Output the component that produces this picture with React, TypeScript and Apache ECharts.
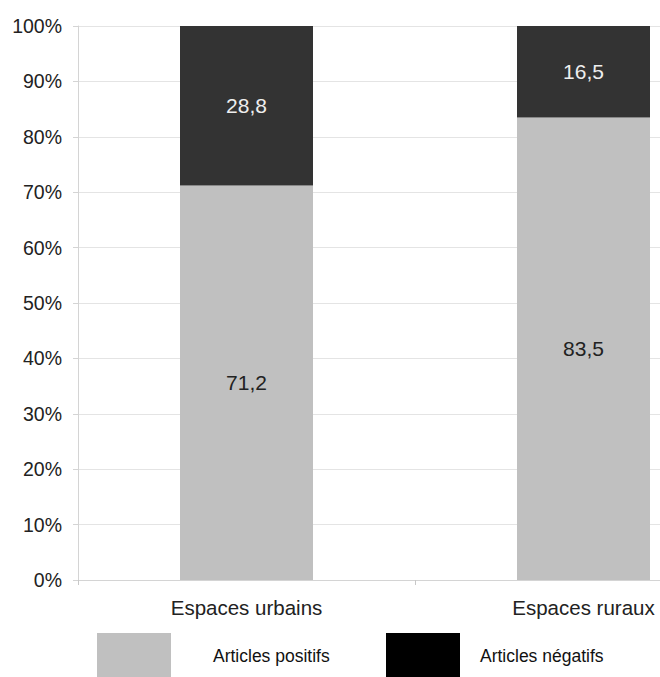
import React, { useEffect, useRef } from "react";
import * as echarts from "echarts";

const categories = ["Espaces urbains", "Espaces ruraux"];
const positifs = [71.2, 83.5];
const negatifs = [28.8, 16.5];
const seriesNames = ["Articles positifs", "Articles négatifs"];

export default function App() {
  const ref = useRef<HTMLDivElement>(null);
  useEffect(() => {
    if (!ref.current) return;
    const chart = echarts.init(ref.current, null, { renderer: "svg" });
    const fmt = (p: any) => String(p.value).replace(".", ",");
    const font = "Liberation Sans, Arial, sans-serif";
    chart.setOption({
      animation: false,
      textStyle: { fontFamily: font },
      grid: { left: 78, top: 26, width: 674, height: 554 },
      xAxis: {
        type: "category",
        data: categories,
        axisLine: { lineStyle: { color: "#d4d4d4" } },
        axisTick: { show: true, length: 5, lineStyle: { color: "#c8c8c8" } },
        axisLabel: { color: "#222", fontSize: 20.5, margin: 17, fontFamily: font },
      },
      yAxis: {
        type: "value",
        min: 0,
        max: 100,
        interval: 10,
        axisLine: { show: true, lineStyle: { color: "#d4d4d4" } },
        axisTick: { show: true, length: 5, lineStyle: { color: "#d4d4d4" } },
        splitLine: { lineStyle: { color: "#e4e4e4" } },
        axisLabel: { formatter: "{value}%", color: "#222", fontSize: 19.5, margin: 16, fontFamily: font },
      },
      legend: [
        {
          left: 92,
          top: 628,
          icon: "rect",
          itemWidth: 74,
          itemHeight: 46,
          data: [{ name: seriesNames[0], itemStyle: { color: "#c0c0c0" } }],
          textStyle: { color: "#111", fontSize: 17.5, padding: [0, 0, 0, 37], fontFamily: font },
          selectedMode: false,
        },
        {
          left: 381,
          top: 628,
          icon: "rect",
          itemWidth: 74,
          itemHeight: 46,
          data: [{ name: seriesNames[1], itemStyle: { color: "#000000" } }],
          textStyle: { color: "#111", fontSize: 17.5, padding: [0, 0, 0, 15], fontFamily: font },
          selectedMode: false,
        },
      ],
      series: [
        {
          name: seriesNames[0],
          type: "bar",
          stack: "total",
          barWidth: 133,
          data: positifs,
          itemStyle: { color: "#c0c0c0" },
          label: { show: true, position: "inside", color: "#222", fontSize: 21, formatter: fmt, fontFamily: font },
        },
        {
          name: seriesNames[1],
          type: "bar",
          stack: "total",
          barWidth: 133,
          data: negatifs,
          itemStyle: { color: "#333333" },
          label: { show: true, position: "inside", color: "#eeeeee", fontSize: 21, formatter: fmt, fontFamily: font },
        },
      ],
    });
    return () => chart.dispose();
  }, []);
  return (
    <div style={{ position: "fixed", left: 0, top: 0, width: 660, height: 677, overflow: "hidden", background: "#fff" }}>
      <div ref={ref} style={{ position: "absolute", left: 0, top: 0, width: 760, height: 677 }} />
    </div>
  );
}
